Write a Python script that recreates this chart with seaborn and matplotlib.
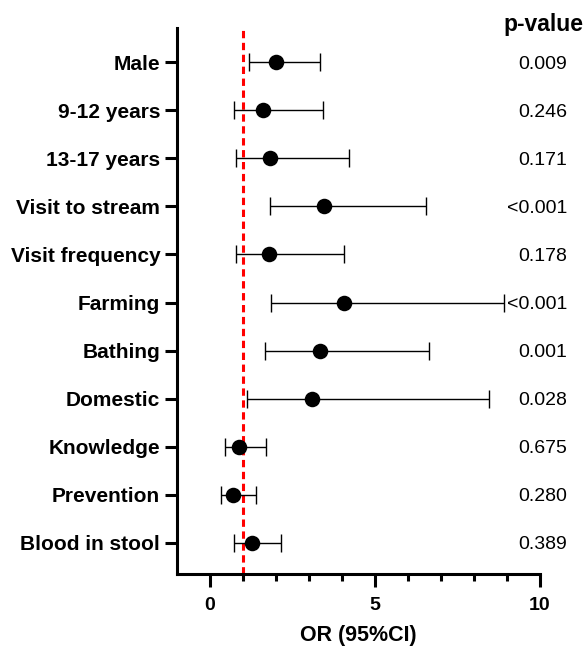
import matplotlib
matplotlib.use("Agg")
import matplotlib.pyplot as plt
import matplotlib.transforms as mtransforms
import seaborn as sns
import pandas as pd

# Odds ratios with 95% confidence intervals per factor
factors = ["Male", "9-12 years", "13-17 years", "Visit to stream", "Visit frequency",
           "Farming", "Bathing", "Domestic", "Knowledge", "Prevention", "Blood in stool"]
odds_ratio = [1.99, 1.60, 1.83, 3.47, 1.78, 4.07, 3.33, 3.10, 0.88, 0.69, 1.28]
ci_lower = [1.19, 0.73, 0.80, 1.83, 0.80, 1.85, 1.68, 1.13, 0.45, 0.33, 0.73]
ci_upper = [3.32, 3.42, 4.22, 6.55, 4.06, 8.91, 6.63, 8.47, 1.70, 1.39, 2.16]
p_values = ["0.009", "0.246", "0.171", "<0.001", "0.178", "<0.001",
            "0.001", "0.028", "0.675", "0.280", "0.389"]
x_ticks = [0, 5, 10]

df = pd.DataFrame({"factor": factors, "OR": odds_ratio,
                   "lo": ci_lower, "hi": ci_upper, "p": p_values})

sns.set_theme(style="ticks")
plt.rcParams["font.family"] = ["Liberation Sans", "DejaVu Sans"]

fig = plt.figure(figsize=(5.87, 6.47), dpi=100)
ax = fig.add_axes([0.3015, 0.1128, 0.6184, 0.8439])

# Reference line at OR = 1
ax.axvline(1, color="#ff0000", lw=2.2, dashes=(2.4, 1.5), zorder=1)

# Confidence intervals
ax.errorbar(df["OR"], df["factor"],
            xerr=[df["OR"] - df["lo"], df["hi"] - df["OR"]],
            fmt="none", ecolor="black", elinewidth=1.0, capsize=6.5,
            capthick=1.0, zorder=2)

# Point estimates
sns.scatterplot(data=df, x="OR", y="factor", color="black", s=125,
                edgecolor="black", linewidth=0, zorder=3, ax=ax)

ax.set_xlim(-1, 10)
ax.set_ylim(len(factors) - 1 + 0.645, -0.707)

ax.set_xticks(x_ticks)
ax.set_xticks(range(0, 11), minor=True)
ax.set_xticklabels([str(t) for t in x_ticks])

sns.despine(ax=ax)
for side in ("left", "bottom"):
    ax.spines[side].set_linewidth(2.2)
    ax.spines[side].set_color("black")

ax.tick_params(axis="y", length=8.6, width=2.2, pad=3.5, labelsize=15,
               colors="black")
ax.tick_params(axis="x", which="major", length=9, width=2.2, pad=7.5,
               labelsize=14, colors="black")
ax.tick_params(axis="x", which="minor", length=5, width=2.2, colors="black")
for lab in ax.get_yticklabels() + ax.get_xticklabels():
    lab.set_fontweight("bold")

ax.set_ylabel("")
ax.set_xlabel("OR (95%CI)", fontsize=15.5, fontweight="bold", labelpad=8,
              color="black")

# p-value column
col_trans = mtransforms.blended_transform_factory(fig.transFigure, ax.transData)
for i, p in enumerate(df["p"]):
    ax.text(567 / 587, i, p, transform=col_trans, ha="right",
            va="center_baseline", fontsize=14, color="black")
fig.text(503 / 587, 1 - 24 / 647, "p-value", ha="left", va="center",
         fontsize=16.5, fontweight="bold", color="black")

fig.savefig("out.png", dpi=100)
